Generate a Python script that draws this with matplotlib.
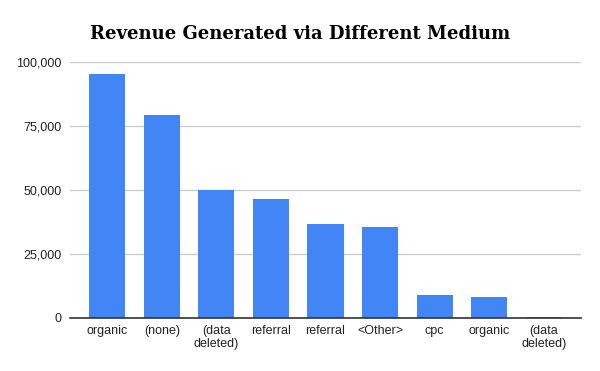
import matplotlib.pyplot as plt
from matplotlib.ticker import FuncFormatter

categories = ['organic', '(none)', '(data\ndeleted)', 'referral', 'referral',
              '<Other>', 'cpc', 'organic', '(data\ndeleted)']
revenue = [95300, 79350, 49750, 46240, 36620, 35330, 8840, 8060, 400]
yticks = [0, 25000, 50000, 75000, 100000]

plt.rcParams['font.family'] = ['Liberation Sans', 'DejaVu Sans']

fig = plt.figure(figsize=(6, 3.71), dpi=100)
ax = fig.add_axes([0.117, 0.1429, 0.851, 0.691])

x = range(len(categories))
ax.bar(x, revenue, width=0.66, color='#4285f4', zorder=3)

ax.set_xlim(-0.68, len(categories) - 1 + 0.68)
ax.set_ylim(0, 100000)
ax.set_yticks(yticks)
ax.yaxis.set_major_formatter(FuncFormatter(lambda v, p: f'{int(v):,}'))
ax.set_xticks(list(x))
ax.set_xticklabels(categories, linespacing=1.15)

ax.grid(axis='y', color='#cccccc', linewidth=1, zorder=0)
for s in ['top', 'right', 'left']:
    ax.spines[s].set_visible(False)
ax.spines['bottom'].set_color('#333333')
ax.spines['bottom'].set_linewidth(1.2)
ax.spines['bottom'].set_zorder(4)
ax.tick_params(axis='both', length=0, labelsize=9, labelcolor='#222222')
ax.tick_params(axis='y', pad=6)
ax.tick_params(axis='x', pad=5)

fig.text(0.5, 0.896, 'Revenue Generated via Different Medium',
         ha='center', va='baseline', fontsize=13, fontweight='bold',
         family=['DejaVu Serif'])

fig.savefig('out.png', dpi=100, facecolor='white')
